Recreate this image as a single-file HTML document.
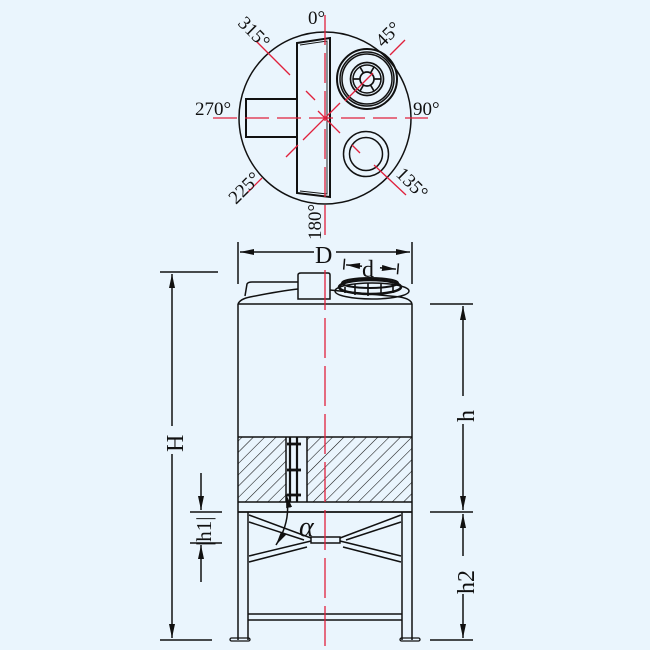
<!DOCTYPE html>
<html><head><meta charset="utf-8"><style>
html,body{margin:0;padding:0;background:#eaf5fd;}
svg{display:block;}
text{font-family:"Liberation Serif",serif;fill:#111;}
</style></head><body>
<svg width="650" height="650" viewBox="0 0 650 650" xmlns="http://www.w3.org/2000/svg">
<defs>
<pattern id="hat" patternUnits="userSpaceOnUse" width="8" height="8" patternTransform="rotate(45)">
<line x1="0" y1="0" x2="0" y2="8" stroke="#111" stroke-width="1.1"/>
</pattern>
<marker id="ar" viewBox="0 0 14 6" refX="14" refY="3" markerWidth="14" markerHeight="6" orient="auto-start-reverse" markerUnits="userSpaceOnUse">
<path d="M0,0 L14,3 L0,6 Z" fill="#111"/>
</marker>
</defs>
<rect width="650" height="650" fill="#eaf5fd"/>

<!-- TOP VIEW -->
<g fill="none" stroke="#111" stroke-width="1.5">
<circle cx="325" cy="118" r="86"/>
<path d="M297,43 L330,38 L330,197 L297,193 Z" stroke-width="2"/>
<path d="M300,45 L327,41 L327,194 L300,191" stroke-width="0.9"/>
<path d="M297,99 L246,99 L246,137 L297,137" stroke-width="2"/>
<circle cx="367" cy="79" r="30" stroke-width="2"/>
<circle cx="367" cy="79" r="27"/>
<circle cx="367" cy="79" r="25"/>
<circle cx="367" cy="79" r="16.5" stroke-width="1.7"/>
<circle cx="367" cy="79" r="14"/>
<circle cx="367" cy="79" r="7" stroke-width="1.7"/>
<g stroke-width="1.7">
<line x1="374" y1="79" x2="381" y2="79"/><line x1="360" y1="79" x2="353" y2="79"/>
<line x1="370.5" y1="85" x2="374" y2="91"/><line x1="363.5" y1="85" x2="360" y2="91"/>
<line x1="370.5" y1="73" x2="374" y2="67"/><line x1="363.5" y1="73" x2="360" y2="67"/>
</g>
<circle cx="366" cy="154" r="22.5"/>
<circle cx="366" cy="154" r="16.5"/>
</g>
<g stroke="#e0203c" stroke-width="1.3" fill="none">
<line x1="213" y1="118" x2="428" y2="118" stroke-dasharray="24,8"/>
<line x1="325" y1="15" x2="325" y2="240" stroke-dasharray="30,8"/>
<line x1="256" y1="41" x2="290" y2="75"/>
<line x1="306" y1="91" x2="315" y2="100"/>
<line x1="318" y1="111" x2="340" y2="133"/>
<line x1="352" y1="145" x2="360" y2="153"/>
<line x1="374" y1="165" x2="406" y2="195"/>
<line x1="405" y1="40" x2="390" y2="55"/>
<line x1="373" y1="73" x2="345" y2="101"/>
<line x1="340" y1="103" x2="303" y2="140"/>
<line x1="298" y1="145" x2="286" y2="157"/>
<line x1="262" y1="178" x2="246" y2="194"/>
</g>
<text x="308" y="24" font-size="19">0°</text>
<text x="195" y="115" font-size="19">270°</text>
<text x="413" y="115" font-size="19">90°</text>
<text transform="translate(237,24) rotate(45)" font-size="19">315°</text>
<text transform="translate(383,48) rotate(-45)" font-size="19">45°</text>
<text transform="translate(236,205) rotate(-45)" font-size="19">225°</text>
<text transform="translate(395,175) rotate(45)" font-size="19">135°</text>
<text transform="translate(321,240) rotate(-90)" font-size="19">180°</text>

<!-- FRONT VIEW -->
<g fill="none" stroke="#111" stroke-width="1.5">
<line x1="238" y1="242" x2="238" y2="284"/><line x1="412" y1="242" x2="412" y2="284"/>
<line x1="240" y1="252" x2="314" y2="252" marker-start="url(#ar)"/>
<line x1="336" y1="252" x2="410" y2="252" marker-end="url(#ar)"/>
<g transform="rotate(5 371 267)">
<line x1="344" y1="261" x2="344" y2="272"/><line x1="398" y1="261" x2="398" y2="272"/>
<line x1="346" y1="267" x2="362" y2="267" marker-start="url(#ar)"/>
<line x1="380" y1="267" x2="396" y2="267" marker-end="url(#ar)"/>
</g>
<path d="M238,304 Q240,299 250,297 Q280,291 298,289"/>
<path d="M245,296 L247,284 Q248,282 252,282 L298,282"/>
<path d="M298,299 L298,275 Q298,273 301,273 L328,273 Q330,273 330,275 L330,299 Z"/>
<path d="M330,290 Q380,295 400,297 Q411,299 412,304"/>
<ellipse cx="372" cy="291" rx="37" ry="8"/>
<ellipse cx="370" cy="287" rx="31" ry="7" stroke-width="2.5"/>
<ellipse cx="370" cy="283" rx="28" ry="5" stroke-width="2"/>
<path d="M345,287 L345,293 M355,284 L355,295 M368,283 L368,296 M381,284 L381,295 M393,285 L393,293" stroke-width="1.6"/>
<line x1="238" y1="304" x2="412" y2="304"/>
<line x1="238" y1="304" x2="238" y2="512"/><line x1="412" y1="304" x2="412" y2="512"/>
</g>
<rect x="238" y="437" width="48" height="65" fill="url(#hat)"/>
<rect x="307" y="437" width="105" height="65" fill="url(#hat)"/>
<g fill="none" stroke="#111" stroke-width="1.5">
<line x1="238" y1="437" x2="412" y2="437"/>
<line x1="238" y1="502" x2="412" y2="502"/>
<line x1="238" y1="512" x2="412" y2="512" stroke-width="1.8"/>
<line x1="286" y1="437" x2="286" y2="502"/><line x1="307" y1="437" x2="307" y2="502"/>
<line x1="290" y1="437" x2="290" y2="502" stroke-width="2.2"/><line x1="297" y1="437" x2="297" y2="502" stroke-width="2.2"/>
<g stroke-width="2.8"><line x1="287" y1="444" x2="301" y2="444"/><line x1="287" y1="470" x2="301" y2="470"/><line x1="287" y1="495" x2="301" y2="495"/></g>
<line x1="238" y1="512" x2="238" y2="640"/><line x1="248" y1="512" x2="248" y2="640"/>
<line x1="402" y1="512" x2="402" y2="640"/><line x1="412" y1="512" x2="412" y2="640"/>
<rect x="230" y="638" width="20" height="3" rx="1.5" stroke-width="1.3"/>
<rect x="400" y="638" width="20" height="3" rx="1.5" stroke-width="1.3"/>
<line x1="248" y1="614" x2="402" y2="614"/><line x1="248" y1="620" x2="402" y2="620"/>
<path d="M311,537 L340,537 L340,543 L311,543 Z"/>
<path d="M249,515 L311,538 M249,522 L304,540"/>
<path d="M249,556 L311,541 M249,562 L307,547"/>
<path d="M401,515 L340,538 M401,522 L346,540"/>
<path d="M401,556 L340,541 M401,562 L343,547"/>
<path d="M286,494 Q292,520 276,545" marker-start="url(#ar)" marker-end="url(#ar)"/>
<line x1="160" y1="272" x2="218" y2="272"/><line x1="160" y1="640" x2="212" y2="640"/>
<line x1="172" y1="274" x2="172" y2="426" marker-start="url(#ar)"/>
<line x1="172" y1="454" x2="172" y2="638" marker-end="url(#ar)"/>
<line x1="430" y1="304" x2="473" y2="304"/><line x1="430" y1="512" x2="473" y2="512"/>
<line x1="430" y1="640" x2="473" y2="640"/>
<line x1="463" y1="306" x2="463" y2="396" marker-start="url(#ar)"/>
<line x1="463" y1="424" x2="463" y2="510" marker-end="url(#ar)"/>
<line x1="463" y1="514" x2="463" y2="556" marker-start="url(#ar)"/>
<line x1="463" y1="594" x2="463" y2="638" marker-end="url(#ar)"/>
<line x1="190" y1="512" x2="222" y2="512"/><line x1="190" y1="543" x2="222" y2="543"/>
<line x1="201" y1="473" x2="201" y2="510" marker-end="url(#ar)"/>
<line x1="201" y1="582" x2="201" y2="545" marker-end="url(#ar)"/>
</g>
<line x1="325" y1="270" x2="325" y2="648" stroke="#e0203c" stroke-width="1.3" stroke-dasharray="40,8"/>
<text x="315" y="263" font-size="24">D</text>
<text x="362" y="277" font-size="24">d</text>
<text transform="translate(183,452) rotate(-90)" font-size="24">H</text>
<text transform="translate(474,422) rotate(-90)" font-size="24">h</text>
<text transform="translate(474,594) rotate(-90)" font-size="24">h2</text>
<text transform="translate(211,546) rotate(-90)" font-size="21">|h1|</text>
<text x="299" y="536" font-size="28" font-style="italic">α</text>
</svg>
</body></html>
